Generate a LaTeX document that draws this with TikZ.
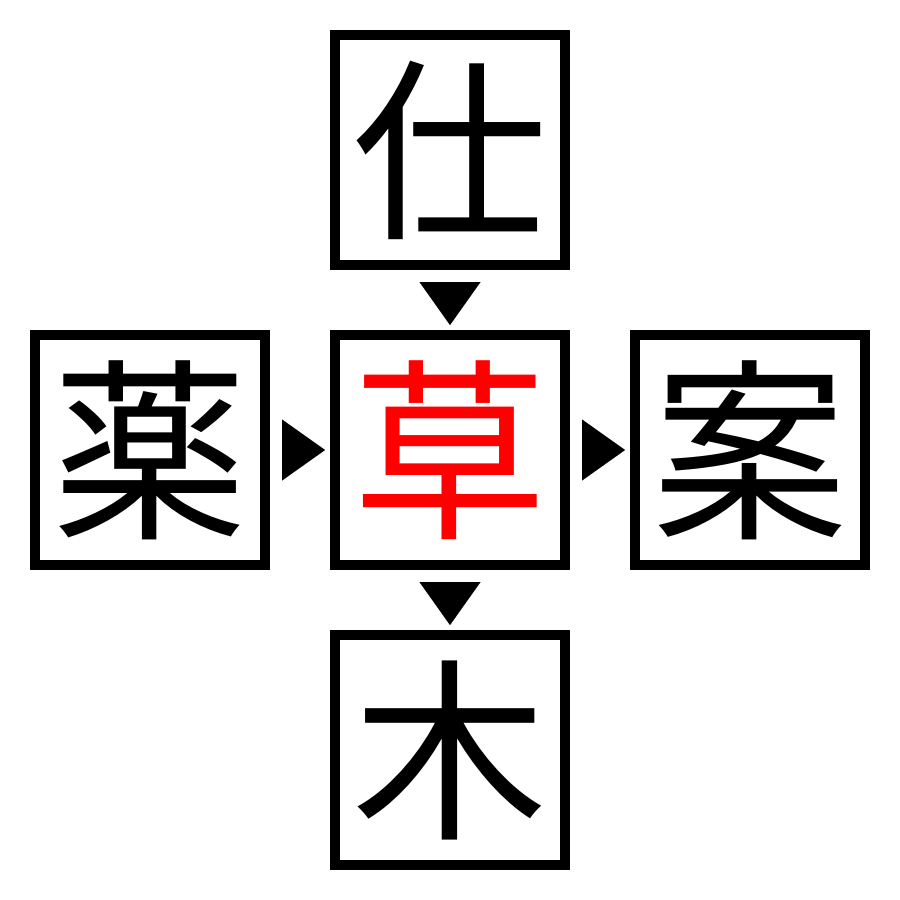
\documentclass[tikz,border=0pt]{standalone}
\usepackage{fontspec}
\newfontfamily\cjk{Noto Sans CJK JP}
\usetikzlibrary{arrows.meta}
\tikzset{
  kbox/.style={draw=black, line width=10pt, minimum size=230pt, inner sep=0pt, outer sep=0pt,
    font=\cjk\fontsize{195pt}{195pt}\selectfont, anchor=center},
  tri/.style={line width=0.01pt, -{Triangle[length=43pt,width=61pt]}, shorten <=17pt, shorten >=10pt},
}
\begin{document}
\begin{tikzpicture}[x=1pt,y=1pt]
\useasboundingbox (0,0) rectangle (900,-900);
\node[kbox] (top) at (450,-150) {仕};
\node[kbox, text=red] (mid) at (450,-450) {草};
\node[kbox] (left) at (150,-450) {薬};
\node[kbox] (right) at (750,-450) {案};
\node[kbox] (bot) at (450,-750) {木};
\draw[tri] (top.south) -- (mid.north);
\draw[tri] (left.east) -- (mid.west);
\draw[tri] (mid.east) -- (right.west);
\draw[tri] (mid.south) -- (bot.north);
\end{tikzpicture}
\end{document}
